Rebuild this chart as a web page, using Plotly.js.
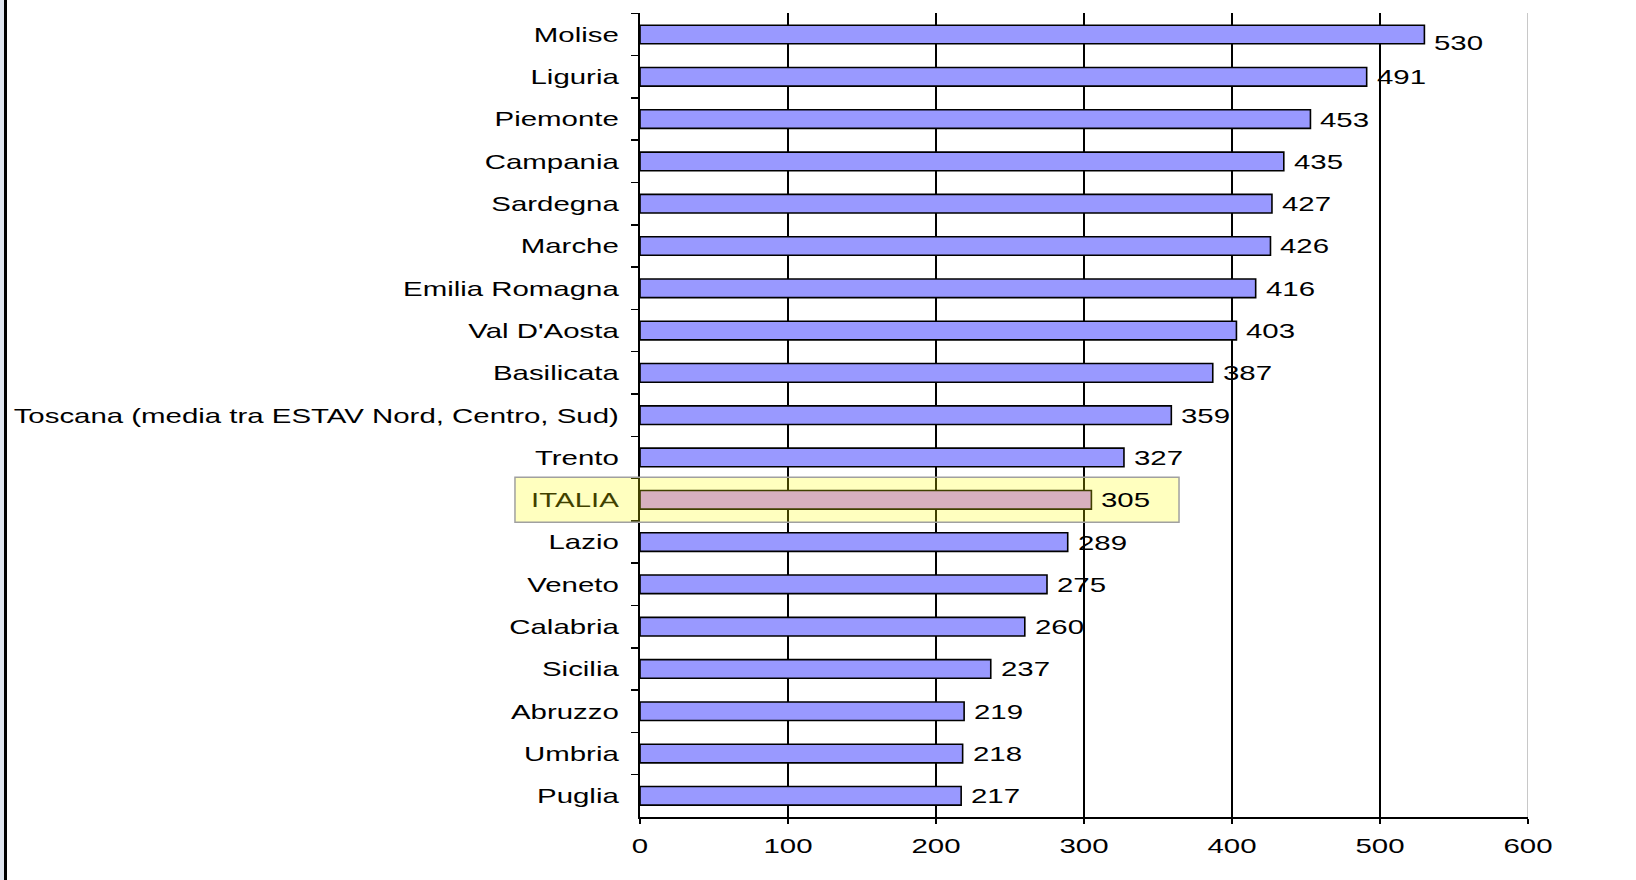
<!DOCTYPE html>
<html>
<head>
<meta charset="utf-8">
<script src="https://cdn.plot.ly/plotly-3.0.1.min.js"></script>
<style>
  html, body { margin: 0; padding: 0; background: #ffffff; }
  #wrap { position: relative; width: 1636px; height: 880px; overflow: hidden; }
  #chart { position: absolute; left: 0; top: 0; width: 1636px; height: 880px; }
  #edgeTint { position: absolute; left: 0; top: 0; width: 4px; height: 880px; background: #dfe5ef; }
  #edgeLine { position: absolute; left: 4px; top: 0; width: 3px; height: 880px; background: #000000; }
</style>
</head>
<body>
<div id="wrap">
  <div id="chart"></div>
  <div id="edgeTint"></div>
  <div id="edgeLine"></div>
</div>
<script>
// ---- data (top to bottom as in the chart) ----
const categories = [
  "Molise", "Liguria", "Piemonte", "Campania", "Sardegna", "Marche",
  "Emilia Romagna", "Val D'Aosta", "Basilicata",
  "Toscana (media tra ESTAV Nord, Centro, Sud)", "Trento", "ITALIA",
  "Lazio", "Veneto", "Calabria", "Sicilia", "Abruzzo", "Umbria", "Puglia"
];
const values = [530, 491, 453, 435, 427, 426, 416, 403, 387, 359, 327, 305,
                289, 275, 260, 237, 219, 218, 217];
const xTickValues = [0, 100, 200, 300, 400, 500, 600];
const xTickLabels = ["0", "100", "200", "300", "400", "500", "600"];
const highlightCategory = "ITALIA";

// ---- styles ----
const FONT = "Liberation Sans, Arial, sans-serif";
const barColor = "#9999ff";
const italyColor = "#cb96ff";
const STRETCH = 1.4;

const barColors = categories.map(c => c === highlightCategory ? italyColor : barColor);
const hiIndex = categories.indexOf(highlightCategory);

const trace = {
  type: "bar",
  orientation: "h",
  y: categories,
  x: values,
  marker: { color: barColors, line: { color: "#000000", width: 1.6 } },
  hoverinfo: "skip",
  cliponaxis: false
};

const annotations = categories.map((c, i) => ({
  x: values[i],
  y: c,
  xref: "x",
  yref: "y",
  text: String(values[i]),
  showarrow: false,
  xanchor: "left",
  yanchor: "middle",
  align: "left",
  xshift: 8,
  yshift: i === 0 ? -8 : 0,
  font: { family: FONT, size: 21, color: "#000000" }
}));

const layout = {
  width: 1636,
  height: 880,
  margin: { l: 640, r: 108, t: 13, b: 63, pad: 0 },
  paper_bgcolor: "#ffffff",
  plot_bgcolor: "#ffffff",
  showlegend: false,
  bargap: 0.56,
  font: { family: FONT, size: 21, color: "#000000" },
  xaxis: {
    range: [0, 600],
    tickmode: "array",
    tickvals: xTickValues,
    ticktext: xTickLabels,
    showgrid: true,
    gridcolor: "#000000",
    gridwidth: 2,
    zeroline: false,
    showline: true,
    linecolor: "#000000",
    linewidth: 2,
    ticks: "outside",
    ticklen: 5,
    tickwidth: 2,
    tickcolor: "#000000",
    ticklabelstandoff: 4,
    tickfont: { family: FONT, size: 21, color: "#000000" },
    fixedrange: true
  },
  yaxis: {
    type: "category",
    categoryorder: "array",
    categoryarray: categories,
    autorange: "reversed",
    showgrid: false,
    zeroline: false,
    showline: true,
    linecolor: "#000000",
    linewidth: 2,
    ticks: "outside",
    tickson: "boundaries",
    ticklen: 7,
    tickwidth: 1.5,
    tickcolor: "#000000",
    ticklabelstandoff: 15,
    tickfont: { family: FONT, size: 21, color: "#000000" },
    fixedrange: true
  },
  shapes: [
    {
      type: "line", xref: "x", yref: "paper",
      x0: 600, x1: 600, y0: 0, y1: 1,
      line: { color: "#c8c8c8", width: 2 },
      layer: "above"
    },
    {
      type: "rect", xref: "paper", yref: "y",
      x0: -0.1408, x1: 0.607,
      y0: hiIndex - 0.532, y1: hiIndex + 0.532,
      fillcolor: "rgba(255,255,0,0.25)",
      line: { color: "#a0a0a0", width: 1.5 },
      layer: "above"
    }
  ],
  annotations: annotations
};

function stretchTexts() {
  const nodes = document.querySelectorAll("#chart .ytick text, #chart .xtick text, #chart .annotation-text");
  nodes.forEach(t => {
    const w = t.getComputedTextLength();
    if (w > 0) {
      t.setAttribute("textLength", (w * STRETCH).toFixed(2));
      t.setAttribute("lengthAdjust", "spacingAndGlyphs");
    }
  });
}

Plotly.newPlot("chart", [trace], layout, { displayModeBar: false, staticPlot: true })
  .then(stretchTexts);
</script>
</body>
</html>
